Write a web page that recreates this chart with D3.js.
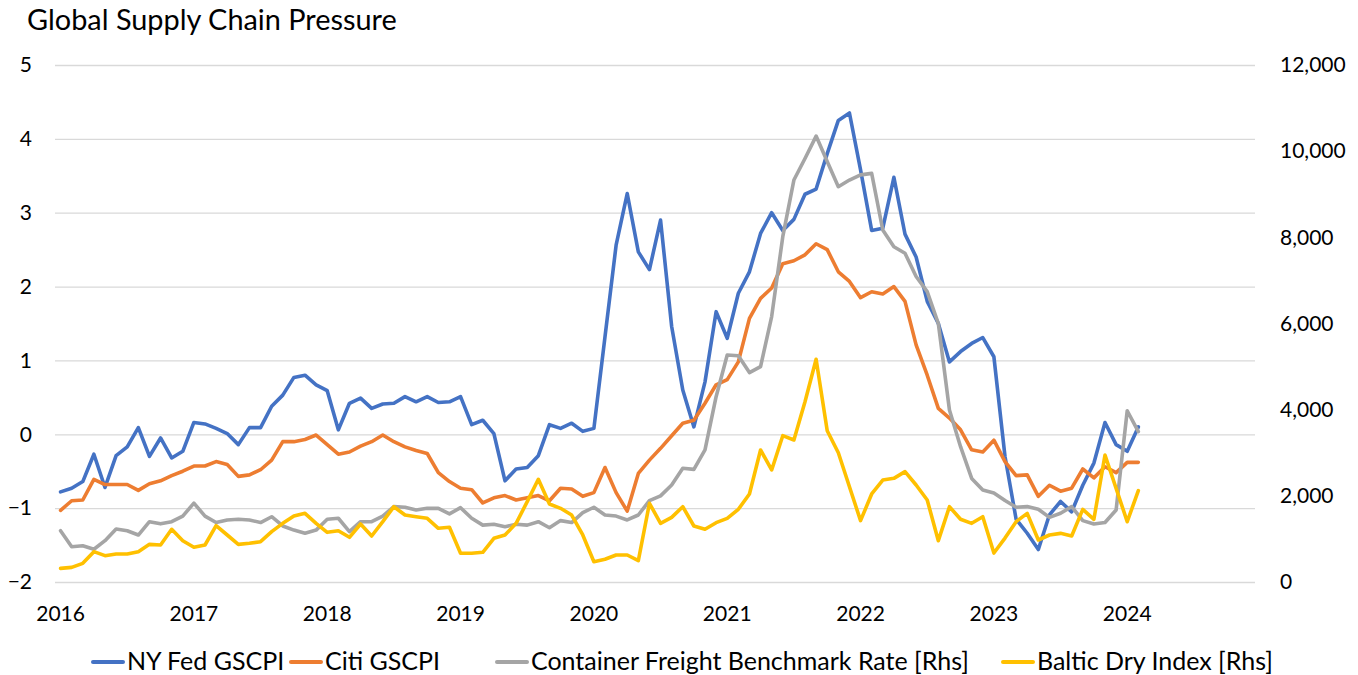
<!DOCTYPE html>
<html>
<head>
<meta charset="utf-8">
<script src="https://cdn.jsdelivr.net/npm/d3@7"></script>
<style>
  body { margin: 0; background: #fff; }
  svg { font-family: Lato, "Open Sans", sans-serif; }
</style>
</head>
<body>
<div id="viz"></div>
<script>

// monthly, Jan 2016 .. Feb 2024
var nyFed = [-0.78,-0.73,-0.64,-0.27,-0.72,-0.29,-0.17,0.09,-0.30,-0.05,-0.32,-0.23,
	0.16,0.14,0.08,0.01,-0.14,0.09,0.09,0.38,0.53,0.77,0.80,0.67,
	0.59,0.06,0.42,0.49,0.35,0.41,0.42,0.51,0.44,0.51,0.43,0.44,
	0.51,0.13,0.19,0.01,-0.63,-0.47,-0.45,-0.29,0.13,0.08,0.15,0.04,
	0.08,1.32,2.56,3.26,2.47,2.23,2.90,1.46,0.60,0.10,0.71,1.66,
	1.30,1.91,2.20,2.72,3.00,2.76,2.91,3.25,3.32,3.80,4.25,4.35,
	3.58,2.76,2.79,3.48,2.71,2.40,1.80,1.50,0.98,1.12,1.23,1.31,
	1.05,-0.30,-1.15,-1.34,-1.56,-1.09,-0.91,-1.05,-0.69,-0.39,0.16,-0.14,
	-0.23,0.10];

var citi = [-1.03,-0.90,-0.89,-0.61,-0.68,-0.68,-0.68,-0.76,-0.67,-0.63,-0.56,-0.50,
	-0.43,-0.43,-0.37,-0.41,-0.57,-0.55,-0.48,-0.35,-0.10,-0.10,-0.07,-0.01,
	-0.14,-0.27,-0.24,-0.16,-0.10,-0.01,-0.10,-0.17,-0.22,-0.26,-0.52,-0.64,
	-0.73,-0.75,-0.93,-0.86,-0.83,-0.89,-0.86,-0.83,-0.90,-0.73,-0.74,-0.84,
	-0.79,-0.45,-0.79,-1.04,-0.53,-0.35,-0.19,-0.02,0.15,0.19,0.42,0.67,
	0.74,0.98,1.57,1.84,1.98,2.31,2.35,2.43,2.58,2.50,2.20,2.07,
	1.85,1.93,1.90,2.00,1.80,1.21,0.80,0.35,0.22,0.06,-0.21,-0.24,
	-0.08,-0.37,-0.56,-0.55,-0.84,-0.69,-0.77,-0.73,-0.47,-0.59,-0.44,-0.52,
	-0.38,-0.38];

var freight = [1190,820,840,760,960,1230,1190,1090,1400,1350,1400,1530,
	1830,1530,1380,1440,1455,1440,1380,1515,1300,1205,1130,1205,
	1455,1480,1170,1400,1400,1530,1750,1735,1670,1710,1710,1580,
	1725,1480,1320,1340,1285,1340,1320,1400,1260,1425,1380,1610,
	1735,1555,1530,1440,1555,1890,2000,2250,2640,2615,3065,4300,
	5270,5250,4860,5000,6160,8015,9330,9830,10350,9760,9175,9330,
	9450,9485,8170,7780,7630,7090,6740,6000,3990,3140,2405,2135,
	2065,1890,1735,1750,1690,1500,1595,1750,1425,1345,1380,1670,
	3975,3490];

var baltic = [317,340,433,704,611,650,650,704,874,859,1223,959,
	805,859,1307,1091,874,898,936,1168,1362,1532,1594,1362,
	1153,1191,1037,1346,1068,1400,1748,1555,1516,1478,1246,1269,
	666,666,689,1014,1091,1362,1864,2384,1810,1710,1555,1091,
	471,527,627,627,495,1826,1362,1501,1748,1300,1223,1377,
	1478,1687,2043,3064,2600,3396,3296,4185,5169,3512,3001,2212,
	1424,2043,2367,2406,2561,2251,1903,959,1748,1455,1362,1516,
	672,1020,1400,1594,975,1091,1129,1068,1687,1455,2948,2174,
	1400,2120];

var years = ["2016","2017","2018","2019","2020","2021","2022","2023","2024"];
var leftTicks = [-2,-1,0,1,2,3,4,5];
var rightTicks = [0,2000,4000,6000,8000,10000,12000];

var seriesNames = ["NY Fed GSCPI","Citi GSCPI","Container Freight Benchmark Rate [Rhs]","Baltic Dry Index [Rhs]"];
var seriesColors = ["#4472C4","#ED7D31","#A5A5A5","#FFC000"];

var width = 1358, height = 675;
var plotL = 55, plotR = 1255, plotT = 65, plotB = 582;

var svg = d3.select("#viz").append("svg")
	.attr("width", width)
	.attr("height", height);

var months = d3.timeMonth.range(new Date(2016,0,1), new Date(2025,0,1)).map(d3.timeFormat("%Y-%m"));

var x = d3.scaleBand().domain(months).range([plotL, plotR]);
var yL = d3.scaleLinear().domain([-2,5]).range([plotB, plotT]);
var yR = d3.scaleLinear().domain([0,12000]).range([plotB, plotT]);

// left axis + gridlines
var gL = svg.append("g")
	.attr("transform", "translate(" + plotL + ",0)")
	.call(d3.axisLeft(yL).tickValues(leftTicks).tickSize(-(plotR-plotL)).tickPadding(23).tickFormat(d3.format("d")));
gL.select(".domain").remove();
gL.selectAll("line").attr("stroke", "#D9D9D9").attr("stroke-width", 1.3);

// right axis
var gR = svg.append("g")
	.attr("transform", "translate(" + plotR + ",0)")
	.call(d3.axisRight(yR).tickValues(rightTicks).tickSize(0).tickPadding(25).tickFormat(d3.format(",")));
gR.select(".domain").remove();

// bottom axis
var gB = svg.append("g")
	.attr("transform", "translate(0," + plotB + ")")
	.call(d3.axisBottom(x).tickValues(years.map(y => y + "-01")).tickSize(0).tickPadding(24).tickFormat(d => d.slice(0,4)));
gB.select(".domain").remove();

svg.selectAll(".tick text")
	.attr("font-family", "Lato")
	.attr("font-size", 21)
	.attr("fill", "#000");
[gL, gR, gB].forEach(g => g.attr("font-family", null).attr("font-size", null));

var cx = m => x(m) + x.bandwidth()/2;

function drawLine(vals, scale, color) {
	var pts = vals.map((v,i) => [months[i], v]);
	svg.append("path")
		.datum(pts)
		.attr("fill", "none")
		.attr("stroke", color)
		.attr("stroke-width", 3.6)
		.attr("stroke-linejoin", "round")
		.attr("stroke-linecap", "round")
		.attr("d", d3.line().x(d => cx(d[0])).y(d => scale(d[1])));
}

drawLine(nyFed, yL, seriesColors[0]);
drawLine(citi, yL, seriesColors[1]);
drawLine(freight, yR, seriesColors[2]);
drawLine(baltic, yR, seriesColors[3]);

// title
var title = svg.append("text")
	.attr("x", 27)
	.attr("y", 30)
	.attr("font-size", 28)
	.attr("fill", "#000")
	.text("Global Supply Chain Pressure");
title.attr("font-size", 28 * 370 / title.node().getComputedTextLength());

// legend
var legendX = [93, 291, 497, 1003];
var legend = svg.append("g");
var items = legend.selectAll("g")
	.data(seriesNames)
	.enter()
	.append("g")
	.attr("transform", (d,i) => "translate(" + legendX[i] + ",662)");
items.append("line")
	.attr("x1", 0).attr("x2", 30)
	.attr("stroke", (d,i) => seriesColors[i])
	.attr("stroke-width", 4)
	.attr("stroke-linecap", "round");
var ltext = items.append("text")
	.attr("x", 34)
	.attr("y", 8)
	.attr("font-size", 22)
	.attr("fill", "#000")
	.text(d => d);
var fs = 22 * 438 / ltext.nodes()[2].getComputedTextLength();
ltext.attr("font-size", fs);

</script>
</body>
</html>
